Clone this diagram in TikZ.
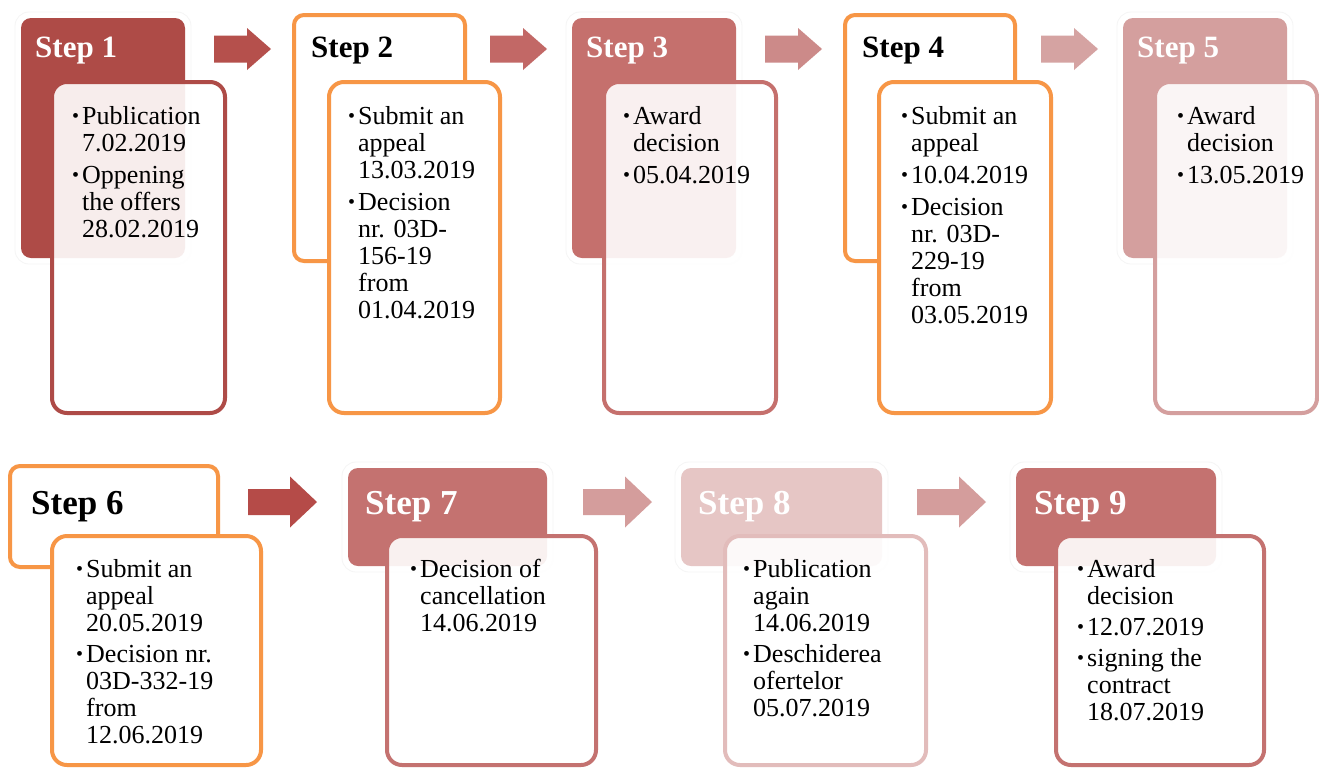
\documentclass[tikz,border=0pt]{standalone}
\usepackage{fontspec}
\setmainfont{Liberation Serif}
\definecolor{orng}{HTML}{F79646}
\definecolor{rA}{HTML}{AE4B47}
\definecolor{rB}{HTML}{C5706D}
\definecolor{rC}{HTML}{D49F9E}
\definecolor{rD}{HTML}{C47270}
\definecolor{rE}{HTML}{E6C6C5}
\definecolor{rEb}{HTML}{E2BCBB}
\definecolor{aA}{HTML}{B5504C}
\definecolor{aB}{HTML}{C26866}
\definecolor{aC}{HTML}{CC8A89}
\definecolor{aD}{HTML}{D5A3A2}
\definecolor{aE}{HTML}{B54B48}
\definecolor{aF}{HTML}{D49D9C}
\newcommand\bul{\makebox[10pt][l]{\raisebox{2pt}{\fontsize{20}{20}\selectfont\textbullet}}}
\newcommand\items[1]{{\fontsize{26}{27}\selectfont\begin{tabular}[t]{@{}l@{}l@{}}#1\end{tabular}}}
\newcommand\arrowtop[2]{\fill[#1,shift={#2}] (0,-13.5) -- (33,-13.5) -- (33,-21) -- (57,0) -- (33,21) -- (33,13.5) -- (0,13.5) -- cycle;}
\newcommand\arrowbot[2]{\fill[#1,shift={#2}] (0,-13) -- (42,-13) -- (42,-25.5) -- (69,0) -- (42,25.5) -- (42,13) -- (0,13) -- cycle;}
\tikzset{
  halo/.style={rounded corners=14pt, draw=black!4, line width=0.8pt, fill=white},
  hdrfill/.style={rounded corners=10pt, fill=#1},
  hdrorng/.style={rounded corners=10pt, fill=white, draw=orng, line width=4pt},
  cbox/.style={rounded corners=15pt, draw=#1, line width=4pt, fill=white, fill opacity=0.9},
  cboxo/.style={rounded corners=15pt, draw=orng, line width=4pt, fill=white},
  titleA/.style={anchor=base west, inner sep=0pt, font=\bfseries\fontsize{31}{31}\selectfont},
  titleB/.style={anchor=base west, inner sep=0pt, font=\bfseries\fontsize{35}{35}\selectfont},
  ctext/.style={anchor=base west, inner sep=0pt, text=black}
}
\begin{document}
\begin{tikzpicture}[x=1pt,y=-1pt]
\useasboundingbox[fill=white] (0,0) rectangle (1319,769);

% ---------- Row 1 ----------
% Step 1
\draw[halo] (15,12) rectangle (191,264);
\fill[hdrfill=rA] (21,18) rectangle (185,258);
\draw[cbox=rA] (52,82) rectangle (225,413);
\node[titleA, text=white] (s1) at (35,57) {Step 1};
\node[ctext] (t1) at (72,124) {\items{\bul & Publication\\ & 7.02.2019\\[5pt] \bul & Oppening\\ & the offers\\ & 28.02.2019}};

\arrowtop{aA}{(214,49)}

% Step 2
\draw[hdrorng] (294,15) rectangle (465,261);
\draw[cboxo] (329,82) rectangle (500,413);
\node[titleA, text=black] (s2) at (311,57) {Step 2};
\node[ctext] (t2) at (348,124) {\items{\bul & Submit an\\ & appeal\\ & 13.03.2019\\[5pt] \bul & Decision\\ & nr. 03D-\\ & 156-19\\ & from\\ & 01.04.2019}};

\arrowtop{aB}{(490,49)}

% Step 3
\draw[halo] (566,12) rectangle (742,264);
\fill[hdrfill=rB] (572,18) rectangle (736,258);
\draw[cbox=rB] (604,82) rectangle (776,413);
\node[titleA, text=white] (s3) at (586,57) {Step 3};
\node[ctext] (t3) at (623,124) {\items{\bul & Award\\ & decision\\[5pt] \bul & 05.04.2019}};

\arrowtop{aC}{(765,49)}

% Step 4
\draw[hdrorng] (845,15) rectangle (1015,261);
\draw[cboxo] (879,82) rectangle (1051,413);
\node[titleA, text=black] (s4) at (862,57) {Step 4};
\node[ctext] (t4) at (901,124) {\items{\bul & Submit an\\ & appeal\\[5pt] \bul & 10.04.2019\\[5pt] \bul & Decision\\ & nr. 03D-\\ & 229-19\\ & from\\ & 03.05.2019}};

\arrowtop{aD}{(1041,49)}

% Step 5
\draw[halo] (1117,12) rectangle (1293,264);
\fill[hdrfill=rC] (1123,18) rectangle (1287,258);
\draw[cbox=rC] (1155,82) rectangle (1317,413);
\node[titleA, text=white] (s5) at (1137,57) {Step 5};
\node[ctext] (t5) at (1177,124) {\items{\bul & Award\\ & decision\\[5pt] \bul & 13.05.2019}};

% ---------- Row 2 ----------
% Step 6
\draw[hdrorng] (10,466) rectangle (218,567);
\draw[cboxo] (52,536) rectangle (261,765);
\node[titleB, text=black] (s6) at (31,514) {Step 6};
\node[ctext] (t6) at (76,577) {\items{\bul & Submit an\\ & appeal\\ & 20.05.2019\\[4pt] \bul & Decision nr.\\ & 03D-332-19\\ & from\\ & 12.06.2019}};

\arrowbot{aE}{(248,502)}

% Step 7
\draw[halo] (342,462) rectangle (553,572);
\fill[hdrfill=rD] (348,468) rectangle (547,566);
\draw[cbox=rD] (387,536) rectangle (596,765);
\node[titleB, text=white] (s7) at (365,514) {Step 7};
\node[ctext] (t7) at (410,577) {\items{\bul & Decision of\\ & cancellation\\ & 14.06.2019}};

\arrowbot{aF}{(583,502)}

% Step 8
\draw[halo] (675,462) rectangle (888,572);
\fill[hdrfill=rE] (681,468) rectangle (882,566);
\draw[cbox=rEb] (725,536) rectangle (926,765);
\node[titleB, text=white] (s8) at (698,514) {Step 8};
\node[ctext] (t8) at (743,577) {\items{\bul & Publication\\ & again\\ & 14.06.2019\\[4pt] \bul & Deschiderea\\ & ofertelor\\ & 05.07.2019}};

\arrowbot{aF}{(917,502)}

% Step 9
\draw[halo] (1010,462) rectangle (1222,572);
\fill[hdrfill=rD] (1016,468) rectangle (1216,566);
\draw[cbox=rD] (1056,536) rectangle (1264,765);
\node[titleB, text=white] (s9) at (1034,514) {Step 9};
\node[ctext] (t9) at (1077,577) {\items{\bul & Award\\ & decision\\[4pt] \bul & 12.07.2019\\[4pt] \bul & signing the\\ & contract\\ & 18.07.2019}};
\end{tikzpicture}
\end{document}
